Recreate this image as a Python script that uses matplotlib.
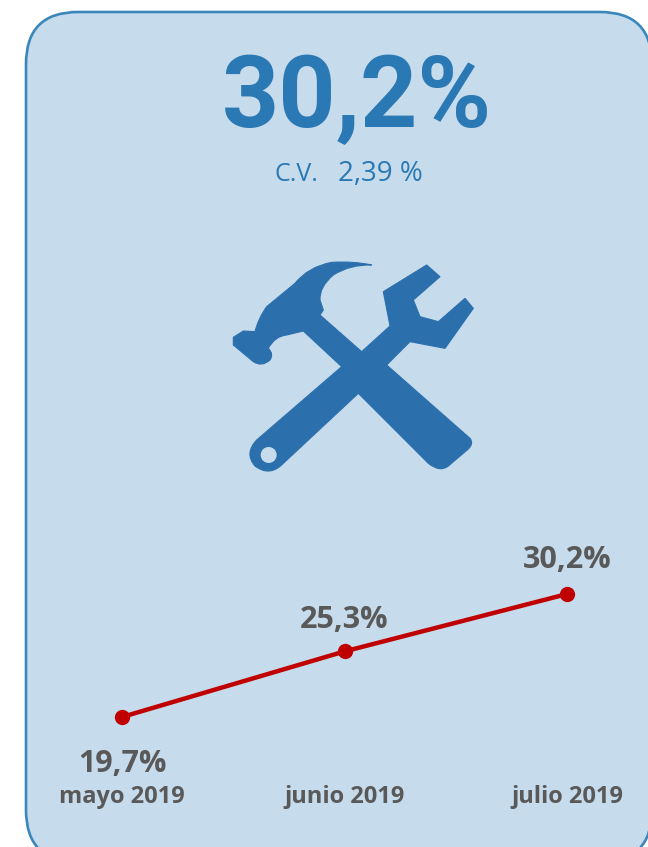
import matplotlib
matplotlib.use('Agg')
import matplotlib.pyplot as plt
from matplotlib.patches import FancyBboxPatch, PathPatch, Circle
from matplotlib.path import Path

months = ['mayo 2019', 'junio 2019', 'julio 2019']
values = [19.7, 25.3, 30.2]
value_labels = ['19,7%', '25,3%', '30,2%']
label_offsets = [-47, 31, 34]
big_number = '30,2%'
cv_label = 'C.V.'
cv_value = '2,39 %'

CARD = '#c6dbeb'
EDGE = '#3b87bc'
BLUE = '#2a78b4'
ICON = '#2b70ad'
RED = '#c00000'
GREY = '#595959'

plt.rcParams['font.family'] = ['Open Sans', 'DejaVu Sans']

W, H = 648, 847
fig = plt.figure(figsize=(W / 100, H / 100), dpi=100, facecolor='white')

# background axes in pixel coords, y pointing down
bg = fig.add_axes([0, 0, 1, 1])
bg.set_xlim(0, W)
bg.set_ylim(H, 0)
bg.axis('off')

bg.add_patch(FancyBboxPatch((26 + 52, 12 + 52), 626 - 104, 850 - 104,
                            boxstyle='round,pad=52,rounding_size=52',
                            fc=CARD, ec=EDGE, lw=1.9))

bg.text(357, 127, big_number, color=BLUE, fontsize=72, fontweight='bold',
        family='Roboto', ha='center', va='baseline')
bg.text(296, 181, cv_label, color=BLUE, fontsize=18, ha='center', va='baseline')
bg.text(380.5, 181, cv_value, color=BLUE, fontsize=20, ha='center', va='baseline')


def shape(steps):
    # steps are in the 3x zoom coords of the icon crop
    verts, codes = [], []
    for i, s in enumerate(steps):
        pts = [(220 + x / 3, 250 + y / 3) for x, y in zip(s[0::2], s[1::2])]
        if len(pts) == 1:
            codes.append(Path.MOVETO if i == 0 else Path.LINETO)
        else:
            codes += [Path.CURVE3, Path.CURVE3]
        verts += pts
    verts.append(verts[0])
    codes.append(Path.CLOSEPOLY)
    return Path(verts, codes)


hammer_head = [(455, 45), (400, 33, 335, 37), (265, 50, 225, 100), (140, 170), (115, 205, 105, 245),
               (70, 243), (40, 262), (40, 285), (100, 335), (125, 352, 150, 330), (162, 312, 145, 295),
               (165, 258, 200, 255), (250, 243), (300, 195), (310, 180), (300, 150),
               (298, 110, 340, 75), (390, 43, 455, 45)]
hammer_handle = [(300, 195), (425, 305), (500, 345), (750, 565), (762, 580, 745, 597), (685, 648),
                 (660, 668, 625, 640), (415, 430), (365, 350), (250, 243)]
wrench = [(425, 305), (510, 228), (490, 125), (620, 45), (660, 80), (580, 150), (600, 200), (655, 215),
          (735, 145), (760, 175), (675, 295), (570, 275), (500, 345), (415, 430), (190, 640),
          (150, 682, 105, 648), (72, 610, 110, 570), (365, 350)]
for part in [hammer_head, hammer_handle, wrench]:
    bg.add_patch(PathPatch(shape(part), fc=ICON, ec=ICON, lw=0.8))
bg.add_patch(Circle((220 + 146 / 3, 250 + 615 / 3), 8, fc=CARD, ec='none'))

# line chart: axes spans y px 540-782, data placed by the limits
ax = fig.add_axes([0, (H - 782) / H, 1, (782 - 540) / H])
ax.patch.set_alpha(0)
ax.set_xlim(-122 / 222.5, (W - 122) / 222.5)
px_per_unit = 11.71
ax.set_ylim(19.7 - (782 - 717) / px_per_unit, 19.7 + (717 - 540) / px_per_unit)
ax.plot(range(3), values, color=RED, lw=3.2, marker='o', ms=11, mew=0, clip_on=False)
for i, v in enumerate(values):
    ax.annotate(value_labels[i], (i, v), xytext=(0, label_offsets[i] * 0.72), textcoords='offset points',
                ha='center', va='center', color=GREY, fontsize=22, fontweight='bold')
ax.set_xticks(range(3), months)
ax.set_yticks([])
ax.tick_params(axis='x', length=0, pad=2, labelsize=17, labelcolor=GREY)
for lab in ax.get_xticklabels():
    lab.set_fontweight('bold')
for sp in ax.spines.values():
    sp.set_visible(False)

fig.savefig('out.png', dpi=100)
